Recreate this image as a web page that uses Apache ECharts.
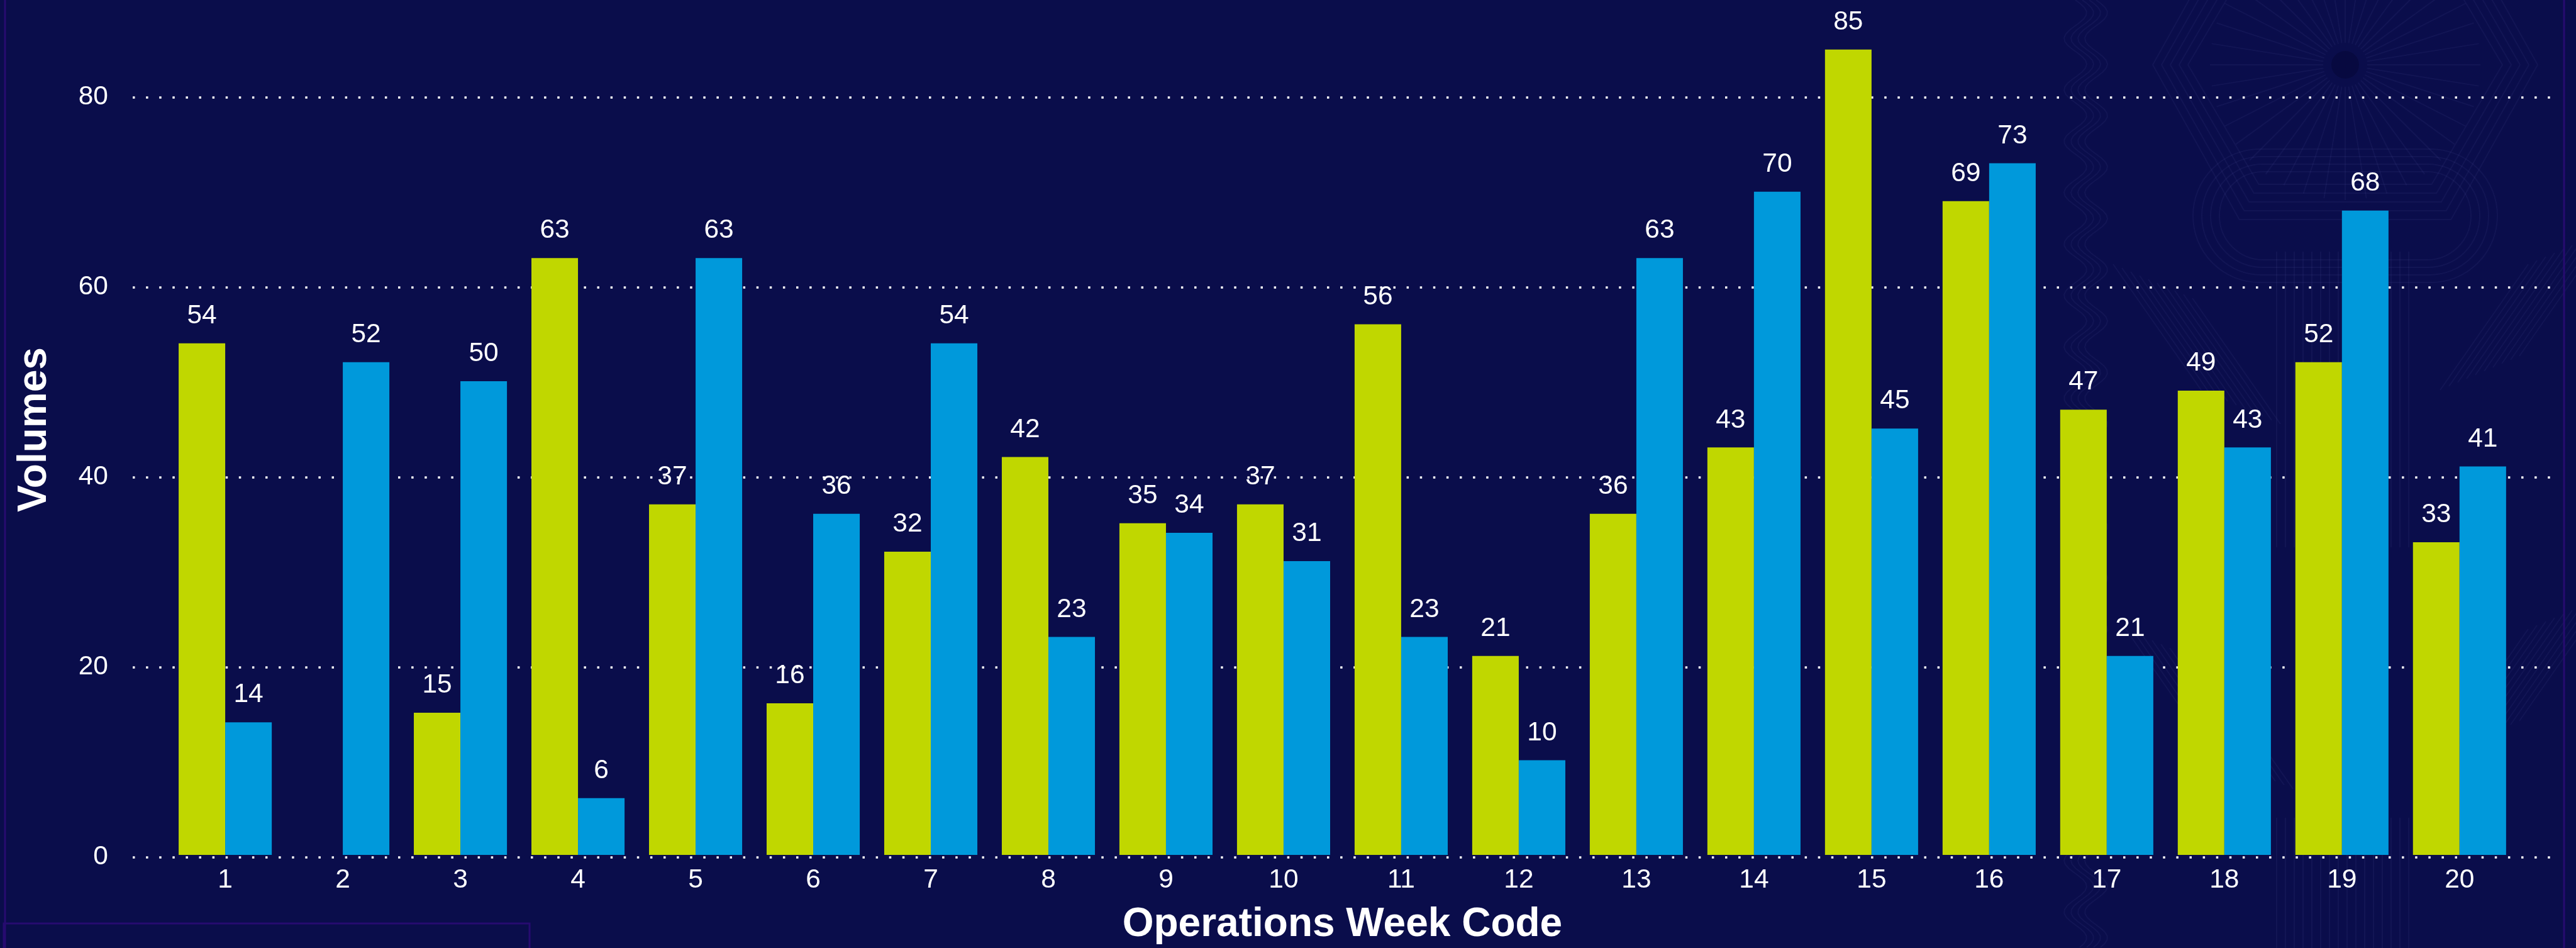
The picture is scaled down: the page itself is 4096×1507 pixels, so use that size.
<!DOCTYPE html>
<html>
<head>
<meta charset="utf-8">
<script src="https://cdn.jsdelivr.net/npm/echarts@6/dist/echarts.min.js"></script>
<style>
  html, body { margin: 0; padding: 0; background: #0a0d4b; }
  #chart { width: 4096px; height: 1507px; }
</style>
</head>
<body>
<div id="chart"></div>
<script>
// data
const weekCodes = ['1','2','3','4','5','6','7','8','9','10','11','12','13','14','15','16','17','18','19','20'];
const greenVolumes = [54, null, 15, 63, 37, 16, 32, 42, 35, 37, 56, 21, 36, 43, 85, 69, 47, 49, 52, 33];
const blueVolumes = [14, 52, 50, 6, 63, 36, 54, 23, 34, 31, 23, 10, 63, 70, 45, 73, 21, 43, 68, 41];
const yTicks = [0, 20, 40, 60, 80];

const FONT = '"Liberation Sans", Arial, sans-serif';
const GREEN = '#c0d700';
const BLUE = '#0099db';
const FRAME = '#260b70';
const DECO = 'rgba(150,160,230,0.06)';

const chart = echarts.init(document.getElementById('chart'));

// faint ornament on the right side (background decoration only)
function buildDecor() {
  const els = [];
  const cx = 3729, cy = 103;
  for (let i = 0; i < 40; i++) {
    const a = (i / 40) * Math.PI * 2;
    els.push({ type: 'line', shape: { x1: cx + Math.cos(a) * 35, y1: cy + Math.sin(a) * 35, x2: cx + Math.cos(a) * 215, y2: cy + Math.sin(a) * 215 }, style: { stroke: DECO, lineWidth: 2 } });
  }
  els.push({ type: 'circle', shape: { cx: cx, cy: cy, r: 22 }, style: { fill: 'rgba(0,0,30,0.25)' } });
  for (let k = 0; k < 5; k++) {
    const rx = 250 + k * 14, ry = 190 + k * 14;
    els.push({ type: 'polygon', shape: { points: [[cx - rx, cy], [cx - rx * 0.55, cy - ry], [cx + rx * 0.55, cy - ry], [cx + rx, cy], [cx + rx * 0.55, cy + ry], [cx - rx * 0.55, cy + ry]] }, style: { fill: 'none', stroke: DECO, lineWidth: 2 } });
  }
  for (let k = 0; k < 4; k++) {
    const rx = 200 + k * 14, ry = 70 + k * 12, y0 = cy + 240;
    els.push({ type: 'rect', shape: { x: cx - rx, y: y0 - ry, width: rx * 2, height: ry * 2, r: ry }, style: { fill: 'none', stroke: DECO, lineWidth: 2 } });
  }
  // wavy column
  for (let k = 0; k < 4; k++) {
    const pts = [];
    for (let y = 0; y <= 1507; y += 6) {
      pts.push([3300 + k * 11 + Math.sin(y / 13) * 18, y]);
    }
    els.push({ type: 'polyline', shape: { points: pts }, style: { stroke: DECO, lineWidth: 2, fill: 'none' } });
  }
  // vertical hatching
  for (let k = 0; k < 16; k++) {
    els.push({ type: 'line', shape: { x1: 3620 + k * 14, y1: 400, x2: 3620 + k * 14, y2: 870 }, style: { stroke: DECO, lineWidth: 2 } });
    els.push({ type: 'line', shape: { x1: 3620 + k * 14, y1: 1300, x2: 3620 + k * 14, y2: 1507 }, style: { stroke: DECO, lineWidth: 2 } });
  }
  // diagonal hatching
  for (let k = 0; k < 10; k++) {
    els.push({ type: 'line', shape: { x1: 3360 + k * 14, y1: 420 + k * 6, x2: 3500 + k * 14, y2: 620 + k * 6 }, style: { stroke: DECO, lineWidth: 2 } });
    els.push({ type: 'line', shape: { x1: 3880 + k * 14, y1: 620 - k * 6, x2: 4020 + k * 14, y2: 420 - k * 6 }, style: { stroke: DECO, lineWidth: 2 } });
    els.push({ type: 'line', shape: { x1: 3380 + k * 14, y1: 1000 + k * 6, x2: 3520 + k * 14, y2: 1200 + k * 6 }, style: { stroke: DECO, lineWidth: 2 } });
    els.push({ type: 'line', shape: { x1: 3880 + k * 14, y1: 1200 - k * 6, x2: 4020 + k * 14, y2: 1000 - k * 6 }, style: { stroke: DECO, lineWidth: 2 } });
  }
  return els;
}

const option = {
  backgroundColor: '#0a0d4b',
  animation: false,
  textStyle: { fontFamily: FONT },
  graphic: [
    { type: 'group', z: -10, silent: true, children: buildDecor() },
    // frame lines and empty legend box
    { type: 'line', z: 10, shape: { x1: 8, y1: 0, x2: 8, y2: 1507 }, style: { stroke: FRAME, lineWidth: 3 } },
    { type: 'line', z: 10, shape: { x1: 4077, y1: 0, x2: 4077, y2: 1507 }, style: { stroke: FRAME, lineWidth: 3 } },
    { type: 'rect', z: 10, shape: { x: 6, y: 1468, width: 836, height: 60 }, style: { fill: 'none', stroke: FRAME, lineWidth: 3 } }
  ],
  grid: [
    { left: 211, right: 33, top: 3.5, bottom: 144.3 },
    { left: 264.6, right: 91.7, top: 3.5, bottom: 144.3 }
  ],
  xAxis: [
    { gridIndex: 0, type: 'category', data: weekCodes, show: false },
    {
      gridIndex: 1,
      type: 'category',
      data: weekCodes,
      axisLine: { show: false },
      axisTick: { show: false },
      axisLabel: { color: '#ffffff', fontSize: 42.5, margin: 19, fontFamily: FONT },
      name: 'Operations Week Code',
      nameLocation: 'middle',
      nameGap: 79,
      nameTextStyle: { color: '#ffffff', fontSize: 64, fontWeight: 'bold', fontFamily: FONT }
    }
  ],
  yAxis: [
    {
      gridIndex: 0,
      type: 'value',
      min: yTicks[0],
      max: 90,
      interval: yTicks[1] - yTicks[0],
      axisLine: { show: false },
      axisTick: { show: false },
      axisLabel: { color: '#ffffff', fontSize: 42.5, margin: 39, showMaxLabel: false, fontFamily: FONT },
      splitLine: { show: true, showMaxLine: false, lineStyle: { color: '#ffffff', width: 3.5, type: [3.5, 17.6] } },
      name: 'Volumes',
      nameLocation: 'middle',
      nameGap: 124,
      nameTextStyle: { color: '#ffffff', fontSize: 64, fontWeight: 'bold', fontFamily: FONT }
    },
    { gridIndex: 1, type: 'value', min: 0, max: 90, show: false, splitLine: { show: false } }
  ],
  series: [
    {
      name: 'Green',
      type: 'bar',
      xAxisIndex: 1,
      yAxisIndex: 1,
      data: greenVolumes,
      barGap: '0%',
      barCategoryGap: '20.8%',
      itemStyle: { color: GREEN },
      label: { show: true, position: 'top', distance: 22, color: '#ffffff', fontSize: 42.5, fontFamily: FONT }
    },
    {
      name: 'Blue',
      type: 'bar',
      xAxisIndex: 1,
      yAxisIndex: 1,
      data: blueVolumes,
      barGap: '0%',
      barCategoryGap: '20.8%',
      itemStyle: { color: BLUE },
      label: { show: true, position: 'top', distance: 22, color: '#ffffff', fontSize: 42.5, fontFamily: FONT }
    }
  ]
};

chart.setOption(option);
</script>
</body>
</html>
